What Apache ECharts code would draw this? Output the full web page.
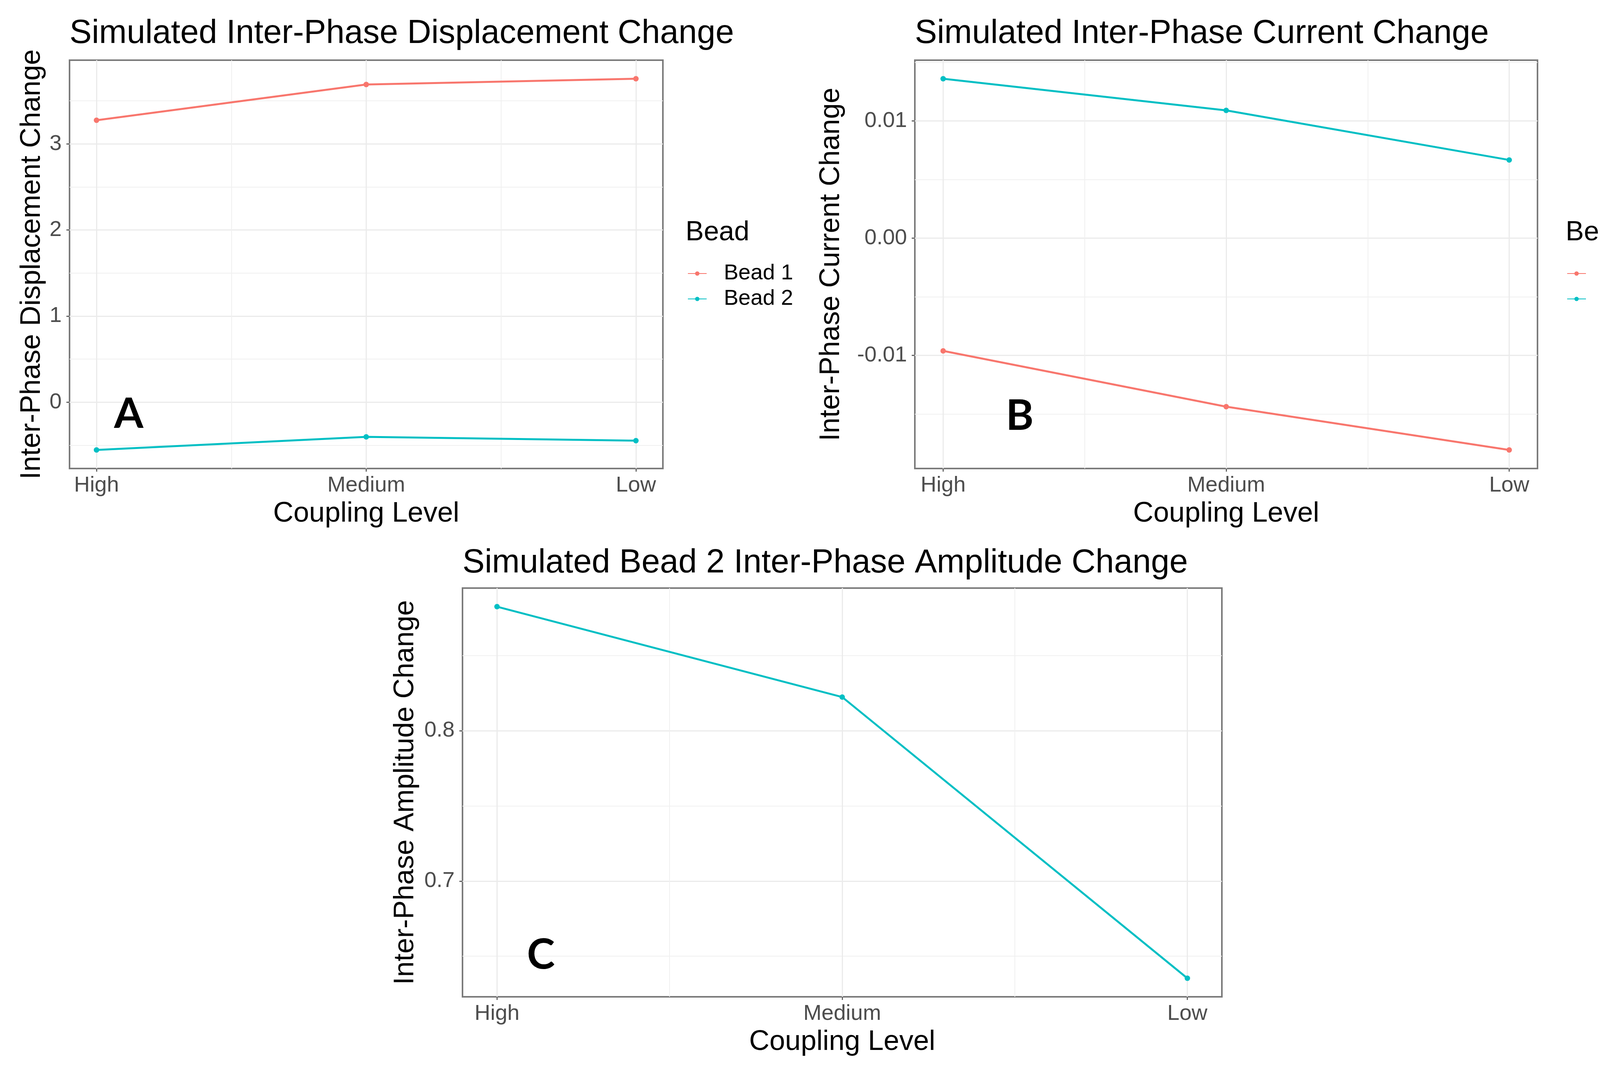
<!DOCTYPE html>
<html>
<head>
<meta charset="utf-8">
<script src="https://cdn.jsdelivr.net/npm/echarts@6/dist/echarts.min.js"></script>
<style>
html, body { margin: 0; padding: 0; background: #fff; }
#chart { width: 4358px; height: 2746px; }
</style>
</head>
<body>
<div id="chart"></div>
<script>
// coupling levels, plotted at x = 1, 2, 3
const levels = ['High', 'Medium', 'Low'];
const levelPos = [1, 2, 3];
const xMinor = [1.5, 2.5];

// A: inter-phase displacement change
const dispBead1 = [3.275, 3.69, 3.757];
const dispBead2 = [-0.554, -0.402, -0.446];
const dispTicks = [0, 1, 2, 3];
const dispTickLabels = ['0', '1', '2', '3'];
const dispMinor = [-0.5, 0.5, 1.5, 2.5, 3.5];

// B: inter-phase current change
const currBead1 = [-0.00962, -0.01438, -0.01807];
const currBead2 = [0.0136, 0.0109, 0.00667];
const currTicks = [-0.01, 0, 0.01];
const currTickLabels = ['-0.01', '0.00', '0.01'];
const currMinor = [-0.015, -0.005, 0.005, 0.015];

// C: bead 2 inter-phase amplitude change
const ampBead2 = [0.8824, 0.8223, 0.6354];
const ampTicks = [0.7, 0.8];
const ampTickLabels = ['0.7', '0.8'];
const ampMinor = [0.65, 0.75, 0.85];

const RED = '#F8766D';
const TEAL = '#00BFC4';
const FONT = '"Liberation Sans", Arial, sans-serif';

// ggplot-ish 5% padding around the data
function padRange(vals) {
  const lo = Math.min(...vals), hi = Math.max(...vals);
  const d = (hi - lo) * 0.05;
  return [lo - d, hi + d];
}

function pts(vals) {
  return vals.map((v, i) => [levelPos[i], v]);
}

function xAxes(g) {
  return [
    {
      type: 'value', gridIndex: g, min: 0.9, max: 3.1, position: 'bottom',
      axisLine: { show: false, onZero: false },
      axisTick: { show: true, length: 8, customValues: levelPos, lineStyle: { color: '#666', width: 3 } },
      axisLabel: {
        customValues: levelPos,
        formatter: v => levels[levelPos.indexOf(Math.round(v))],
        fontSize: 56, color: '#4d4d4d', margin: 16, fontFamily: FONT
      },
      splitLine: { show: true, lineStyle: { color: '#ebebeb', width: 3 } },
      name: 'Coupling Level', nameLocation: 'middle', nameGap: 80,
      nameTextStyle: { fontSize: 72, color: '#000', fontFamily: FONT }
    },
    {
      type: 'value', gridIndex: g, min: 0.9, max: 3.1, position: 'top',
      axisLine: { show: false, onZero: false },
      axisTick: { show: false, customValues: xMinor },
      axisLabel: { show: false },
      splitLine: { show: true, lineStyle: { color: '#f0f0f0', width: 2 } }
    }
  ];
}

function yAxes(g, range, ticks, tickLabels, minor, name, gap) {
  return [
    {
      type: 'value', gridIndex: g, min: range[0], max: range[1], position: 'left',
      axisLine: { show: false, onZero: false },
      axisTick: { show: true, length: 8, customValues: ticks, lineStyle: { color: '#666', width: 3 } },
      axisLabel: {
        customValues: ticks,
        formatter: v => {
          const i = ticks.findIndex(t => Math.abs(t - v) < 1e-9);
          return i < 0 ? '' : tickLabels[i];
        },
        fontSize: 56, color: '#4d4d4d', margin: 20, fontFamily: FONT
      },
      splitLine: { show: true, lineStyle: { color: '#ebebeb', width: 3 } },
      name: name, nameLocation: 'middle', nameGap: gap, nameRotate: 90,
      nameTextStyle: { fontSize: 72, color: '#000', fontFamily: FONT }
    },
    {
      type: 'value', gridIndex: g, min: range[0], max: range[1], position: 'right',
      axisLine: { show: false, onZero: false },
      axisTick: { show: false, customValues: minor },
      axisLabel: { show: false },
      splitLine: { show: true, lineStyle: { color: '#f0f0f0', width: 2 } }
    }
  ];
}

function lineSeries(name, vals, color, g) {
  return {
    name: name, type: 'line', data: pts(vals),
    xAxisIndex: 2 * g, yAxisIndex: 2 * g,
    symbol: 'circle', symbolSize: 14, showSymbol: true,
    lineStyle: { width: 5, color: color },
    itemStyle: { color: color },
    z: 5
  };
}

const chart = echarts.init(document.getElementById('chart'));
const frame = { show: true, borderColor: '#7a7a7a', borderWidth: 4, backgroundColor: 'transparent', containLabel: false };

function heading(text, left, top, size) {
  return {
    text: text, left: left, top: top, padding: 0,
    textStyle: { fontSize: size, lineHeight: size, fontWeight: 'normal', color: '#000', fontFamily: FONT }
  };
}

function letter(text, left, top) {
  return {
    text: text, left: left, top: top, padding: 0,
    textStyle: { fontSize: 108, lineHeight: 108, fontWeight: 'bold', color: '#000', fontFamily: 'Lato, "Open Sans", sans-serif' }
  };
}

function legendFor(left) {
  return {
    data: ['Bead 1', 'Bead 2'], orient: 'vertical', left: left, top: 672, padding: 0,
    itemWidth: 48, itemHeight: 14, itemGap: 9, selectedMode: false,
    textStyle: { fontSize: 56, lineHeight: 56, color: '#000', fontFamily: FONT, padding: [0, 0, 0, 39] }
  };
}

chart.setOption({
  animation: false,
  backgroundColor: '#fff',
  title: [
    heading('Simulated Inter-Phase Displacement Change', 178, 44, 85),
    heading('Simulated Inter-Phase Current Change', 2342, 44, 85),
    heading('Simulated Bead 2 Inter-Phase Amplitude Change', 1184, 1399, 85),
    heading('Bead', 1755, 561, 70),
    heading('Bead', 4008, 561, 70),
    letter('A', 292, 1006),
    letter('B', 2575, 1011),
    letter('C', 1349, 2390)
  ],
  legend: [legendFor(1760), legendFor(4011)],
  grid: [
    Object.assign({ left: 178, top: 154, width: 1519, height: 1045 }, frame),
    Object.assign({ left: 2342, top: 154, width: 1594, height: 1045 }, frame),
    Object.assign({ left: 1184, top: 1505, width: 1944, height: 1046 }, frame)
  ],
  xAxis: [].concat(xAxes(0), xAxes(1), xAxes(2)),
  yAxis: [].concat(
    yAxes(0, padRange(dispBead1.concat(dispBead2)), dispTicks, dispTickLabels, dispMinor, 'Inter-Phase Displacement Change', 60),
    yAxes(1, padRange(currBead1.concat(currBead2)), currTicks, currTickLabels, currMinor, 'Inter-Phase Current Change', 178),
    yAxes(2, padRange(ampBead2), ampTicks, ampTickLabels, ampMinor, 'Inter-Phase Amplitude Change', 110)
  ),
  series: [
    lineSeries('Bead 1', dispBead1, RED, 0),
    lineSeries('Bead 2', dispBead2, TEAL, 0),
    lineSeries('Bead 1', currBead1, RED, 1),
    lineSeries('Bead 2', currBead2, TEAL, 1),
    lineSeries('Bead 2', ampBead2, TEAL, 2)
  ]
});
</script>
</body>
</html>
